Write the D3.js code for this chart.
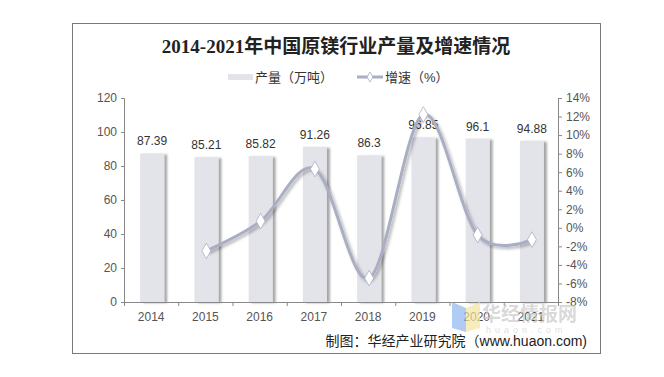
<!DOCTYPE html>
<html lang="zh">
<head>
    <meta charset="UTF-8">
    <title>2014-2021年中国原镁行业产量及增速情况</title>
    <style type="text/css">
        html, body { padding:0; margin:0; background:#fff; }
        svg text { font-family: Arial, "Liberation Sans", "Noto Sans CJK SC", sans-serif; }
    </style>
</head>
<body>
<script src="https://d3js.org/d3.v7.min.js"></script>
<script type="text/javascript">
    var years = ['2014', '2015', '2016', '2017', '2018', '2019', '2020', '2021'];
    var output = [87.39, 85.21, 85.82, 91.26, 86.3, 96.85, 96.1, 94.88];
    var growth = [null, -2.49, 0.72, 6.34, -5.43, 12.22, -0.77, -1.27];
    var leftTicks = [0, 20, 40, 60, 80, 100, 120];
    var rightTicks = [-8, -6, -4, -2, 0, 2, 4, 6, 8, 10, 12, 14];

    var width = 664, height = 377;
    var plot = {left: 124, right: 558, top: 98, bottom: 302};

    var svg = d3.select('body').append('svg')
        .attr('width', width)
        .attr('height', height);

    var defs = svg.append('defs');
    var sh = defs.append('filter').attr('id', 'barShadow')
        .attr('x', '-20%').attr('y', '-10%').attr('width', '150%').attr('height', '120%');
    sh.append('feDropShadow').attr('dx', 3).attr('dy', 1).attr('stdDeviation', 1.2)
        .attr('flood-color', '#000').attr('flood-opacity', 0.35);
    var lsh = defs.append('filter').attr('id', 'lineShadow')
        .attr('x', '-10%').attr('y', '-10%').attr('width', '130%').attr('height', '130%');
    lsh.append('feDropShadow').attr('dx', 2).attr('dy', 2).attr('stdDeviation', 1.5)
        .attr('flood-color', '#000').attr('flood-opacity', 0.3);

    // outer frame
    svg.append('rect')
        .attr('x', 72.5).attr('y', 23.5)
        .attr('width', 528).attr('height', 330)
        .attr('fill', 'none').attr('stroke', '#7a7a7a').attr('stroke-width', 1);

    var x = d3.scaleBand().domain(years).range([plot.left, plot.right]);
    var y = d3.scaleLinear().domain([0, 120]).range([plot.bottom, plot.top]);
    var y2 = d3.scaleLinear().domain([-8, 14]).range([plot.bottom, plot.top]);

    // title
    svg.append('text')
        .attr('x', 336).attr('y', 53)
        .attr('text-anchor', 'middle')
        .style('font-family', '"Liberation Serif", "Noto Sans CJK SC", serif')
        .style('font-size', '19px').style('font-weight', 'bold').attr('fill', '#222')
        .text('2014-2021年中国原镁行业产量及增速情况');

    // legend
    var lg = svg.append('g').attr('class', 'legend');
    lg.append('rect').attr('x', 228).attr('y', 74).attr('width', 25).attr('height', 6).attr('fill', '#e3e3ea');
    lg.append('text').attr('x', 255).attr('y', 82).style('font-size', '13px').attr('fill', '#333').text('产量（万吨）');
    lg.append('line').attr('x1', 357).attr('x2', 383).attr('y1', 77).attr('y2', 77)
        .attr('stroke', '#a9aec4').attr('stroke-width', 3);
    lg.append('path').attr('d', d3.symbol(d3.symbolDiamond, 30)())
        .attr('transform', 'translate(370,77)')
        .attr('fill', '#fff').attr('stroke', '#a9aec4').attr('stroke-width', 0.8);
    lg.append('text').attr('x', 385).attr('y', 82).style('font-size', '13px').attr('fill', '#333').text('增速（%）');

    // bars
    var barW = 24;
    svg.append('g').attr('class', 'bars')
        .selectAll('rect').data(output).enter().append('rect')
        .attr('x', function(d, i) { return x(years[i]) + x.bandwidth() / 2 - barW / 2 + 1; })
        .attr('y', function(d) { return y(d); })
        .attr('width', barW)
        .attr('height', function(d) { return plot.bottom - y(d); })
        .attr('fill', '#e3e3ea')
        .attr('filter', 'url(#barShadow)');

    // bar labels
    svg.append('g').attr('class', 'labels')
        .selectAll('text').data(output).enter().append('text')
        .attr('x', function(d, i) { return x(years[i]) + x.bandwidth() / 2 + 1; })
        .attr('y', function(d) { return y(d) - 8; })
        .attr('text-anchor', 'middle')
        .style('font-size', '12px').attr('fill', '#333')
        .text(function(d) { return d; });

    // axes
    var axisColor = '#888', labelColor = '#555';
    var gl = svg.append('g').attr('transform', 'translate(' + plot.left + ',0)')
        .call(d3.axisLeft(y).tickValues(leftTicks).tickSize(3).tickPadding(4));
    var gr = svg.append('g').attr('transform', 'translate(' + plot.right + ',0)')
        .call(d3.axisRight(y2).tickValues(rightTicks).tickSize(4).tickPadding(4)
            .tickFormat(function(d) { return d + '%'; }));
    var gx = svg.append('g').attr('transform', 'translate(0,' + plot.bottom + ')')
        .call(d3.axisBottom(x).tickSize(0).tickPadding(10));
    // category boundary ticks
    gx.selectAll('line.bound').data(years.concat(['end'])).enter().append('line')
        .attr('class', 'bound')
        .attr('x1', function(d, i) { return plot.left + i * x.bandwidth() + 0.5; })
        .attr('x2', function(d, i) { return plot.left + i * x.bandwidth() + 0.5; })
        .attr('y1', 0).attr('y2', 4)
        .attr('stroke', axisColor);
    [gl, gr, gx].forEach(function(g) {
        g.select('.domain').attr('stroke', axisColor);
        g.selectAll('.tick line').attr('stroke', axisColor);
        g.selectAll('.tick text').attr('fill', labelColor)
            .style('font-family', 'Arial, "Liberation Sans", sans-serif').style('font-size', '12px');
    });

    // growth line
    var pts = growth.map(function(d, i) { return {year: years[i], v: d}; })
        .filter(function(d) { return d.v !== null; });
    var line = d3.line()
        .x(function(d) { return x(d.year) + x.bandwidth() / 2 + 1; })
        .y(function(d) { return y2(d.v); })
        .curve(d3.curveCatmullRom.alpha(0));
    svg.append('path').datum(pts)
        .attr('d', line)
        .attr('fill', 'none')
        .attr('stroke', '#a9aec4')
        .attr('stroke-width', 3)
        .attr('filter', 'url(#lineShadow)');
    svg.append('g').attr('class', 'markers')
        .selectAll('path').data(pts).enter().append('path')
        .attr('d', d3.symbol(d3.symbolDiamond, 70)())
        .attr('transform', function(d) {
            return 'translate(' + (x(d.year) + x.bandwidth() / 2 + 1) + ',' + y2(d.v) + ')';
        })
        .attr('fill', '#fff')
        .attr('stroke', '#a9aec4')
        .attr('stroke-width', 0.8);

    // watermark (logo + site name, drawn faint behind the corner)
    var wm = svg.append('g').attr('opacity', 0.7);
    wm.append('path').attr('d', 'M452,302 L466,308 L466,332 L452,328 Z').attr('fill', '#8fb6f0');
    wm.append('path').attr('d', 'M466,308 L480,302 L480,328 L466,332 Z').attr('fill', '#f5e6a0');
    wm.append('text').attr('x', 482).attr('y', 321)
        .style('font-size', '19px').style('font-weight', 'bold').attr('fill', '#c9c9c9')
        .text('华经情报网');
    wm.append('text').attr('x', 486).attr('y', 333)
        .style('font-size', '9px').style('letter-spacing', '4px').attr('fill', '#d0d0d0')
        .text('huaon.com');

    // source
    svg.append('text')
        .attr('x', 587).attr('y', 346)
        .attr('text-anchor', 'end')
        .style('font-size', '14px').attr('fill', '#222')
        .text('制图：华经产业研究院（www.huaon.com)');
</script>
</body>
</html>
